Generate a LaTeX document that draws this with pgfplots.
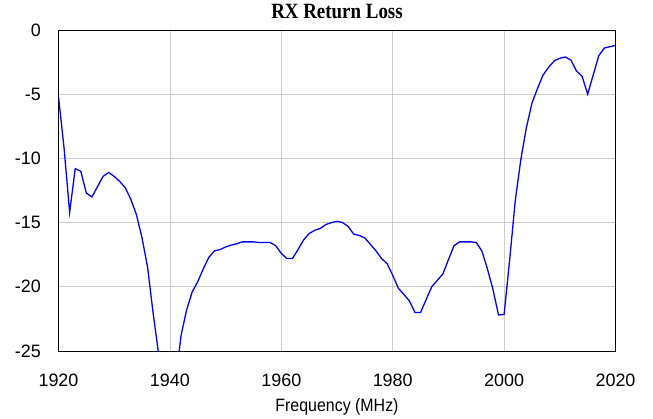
\documentclass[border=0pt]{standalone}
\usepackage{pgfplots}
\pgfplotsset{compat=1.18}
\usepackage{fontspec}
\setmainfont{Liberation Sans}
\newfontfamily\titlefont{Liberation Serif}
\definecolor{gridgray}{RGB}{205,205,205}
\begin{document}
\begin{tikzpicture}
\begin{axis}[
  scale only axis,
  width=557bp, height=321bp,
  xmin=1920, xmax=2020, ymin=-25, ymax=0,
  xtick={1920,1940,...,2020},
  ytick={-25,-20,...,0},
  /pgf/number format/assume math mode=true,
  /pgf/number format/1000 sep={},
  major tick length=0pt,
  grid=major,
  major grid style={gridgray, line width=0.8pt},
  axis line style={black, line width=0.9pt},
  tick label style={font=\fontsize{18}{18}\selectfont},
  yticklabel style={anchor=east, inner sep=0pt, xshift=-17.5bp},
  xticklabel style={anchor=base, inner sep=0pt, yshift=-35bp},
  xlabel={\scalebox{1}[1.12]{Frequency (MHz)}},
  xlabel style={font=\fontsize{16}{16}\selectfont, anchor=base, inner sep=0pt, at={(0.5,0)}, yshift=-60bp},
  title={\scalebox{1}[1.15]{RX Return Loss}},
  title style={font=\fontsize{19}{19}\selectfont\titlefont\bfseries, anchor=base, inner sep=0pt, at={(0.5,1)}, yshift=5.5bp},
]
\addplot[color={rgb,255:red,0;green,0;blue,255}, line width=1.3pt] table {
x y
1920 -5.2
1921 -9.2
1922 -14.2
1923 -10.8
1924 -11.0
1925 -12.7
1926 -13.0
1927 -12.2
1928 -11.4
1929 -11.1
1930 -11.4
1931 -11.8
1932 -12.3
1933 -13.2
1934 -14.4
1935 -16.2
1936 -18.5
1937 -22.1
1938 -25.3
1939 -29
1940 -30
1941 -27.5
1942 -23.8
1943 -21.8
1944 -20.4
1945 -19.6
1946 -18.6
1947 -17.7
1948 -17.2
1949 -17.1
1950 -16.9
1951 -16.75
1952 -16.65
1953 -16.5
1954 -16.5
1955 -16.5
1956 -16.55
1957 -16.55
1958 -16.55
1959 -16.8
1960 -17.4
1961 -17.8
1962 -17.8
1963 -17.1
1964 -16.35
1965 -15.85
1966 -15.6
1967 -15.45
1968 -15.15
1969 -15.0
1970 -14.9
1971 -15.0
1972 -15.3
1973 -15.9
1974 -16.0
1975 -16.2
1976 -16.7
1977 -17.2
1978 -17.8
1979 -18.2
1980 -19.1
1981 -20.1
1982 -20.6
1983 -21.1
1984 -22.0
1985 -22.0
1986 -21.0
1987 -20.0
1988 -19.5
1989 -19.0
1990 -17.9
1991 -16.8
1992 -16.5
1993 -16.5
1994 -16.5
1995 -16.55
1996 -17.2
1997 -18.6
1998 -20.2
1999 -22.2
2000 -22.15
2001 -17.9
2002 -13.3
2003 -10.1
2004 -7.6
2005 -5.7
2006 -4.55
2007 -3.5
2008 -2.9
2009 -2.4
2010 -2.2
2011 -2.1
2012 -2.35
2013 -3.2
2014 -3.6
2015 -5.0
2016 -3.5
2017 -2.0
2018 -1.4
2019 -1.3
2020 -1.2
};
\end{axis}
\path (current axis.south west) ++(-58.5bp,-68bp) coordinate (bbsw);
\path (current axis.north east) ++(37.5bp,30bp) coordinate (bbne);
\path (bbsw) rectangle (bbne);
\end{tikzpicture}
\end{document}
